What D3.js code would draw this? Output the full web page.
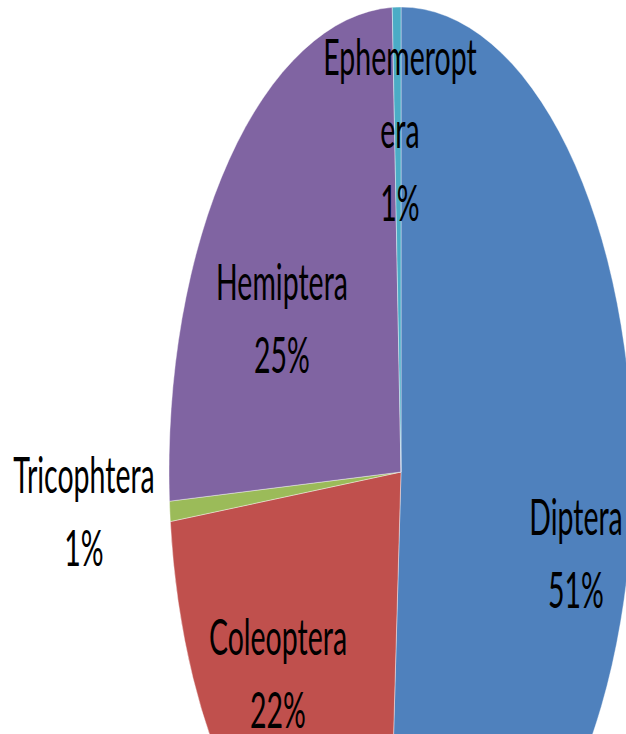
<html>
	<script src="https://d3js.org/d3.v7.min.js"></script>
	<body style="margin:0; background:#fff;">
		<svg width=626 height=734></svg>
	</body>

	<script>
		// ------------------------data------------------------ //
		var orders = ["Diptera", "Coleoptera", "Tricophtera", "Hemiptera", "Ephemeroptera"];
		var shares = [50.9, 22.4, 0.7, 25.4, 0.6];
		var colors = ["#4F81BD", "#C0504D", "#9BBB59", "#8064A2", "#4BACC6"];

		// label anchors (screen px from pie centre, first baseline)
		var labelPos = [[175, 63], [-123, 183], [-317, 21], [-119, -172], [-1, -397]];

		var svg = d3.select("svg");
		const cx = 401, cy = 472,
			rx = 232, ry = 465;

		var g = svg.append("g").attr("transform", "translate(" + cx + "," + cy + ")");

		//------------------------pie------------------------//
		var pie = d3.pie().sort(null).value(function(d) { return d; });
		var arc = d3.arc().innerRadius(0).outerRadius(rx);
		var total = d3.sum(shares);

		g.append("g")
			.attr("transform", "scale(1," + (ry / rx) + ")")
			.selectAll("path")
			.data(pie(shares))
			.enter()
			.append("path")
			.attr("d", arc)
			.style("fill", function(d, i) { return colors[i]; })
			.style("stroke", "#fff")
			.style("stroke-width", 0.4)
			.attr("vector-effect", "non-scaling-stroke");

		//------------------------labels------------------------//
		const stretch = 1.75, lineGap = 41.7;

		orders.forEach(function(name, i) {
			var lines = name.length > 11 ? [name.slice(0, 10), name.slice(10)] : [name];
			lines.push(Math.round(shares[i] / total * 100) + "%");

			var t = g.append("text")
				.attr("transform", "translate(" + labelPos[i][0] + "," + labelPos[i][1] + ") scale(1," + stretch + ")")
				.attr("text-anchor", "middle")
				.style("font-family", "Lato, 'Open Sans', sans-serif")
				.style("font-size", "28.5px")
				.style("fill", "#000");

			lines.forEach(function(s, j) {
				t.append("tspan")
					.attr("x", 0)
					.attr("y", j * lineGap)
					.text(s);
			});
		});
	</script>
</html>
